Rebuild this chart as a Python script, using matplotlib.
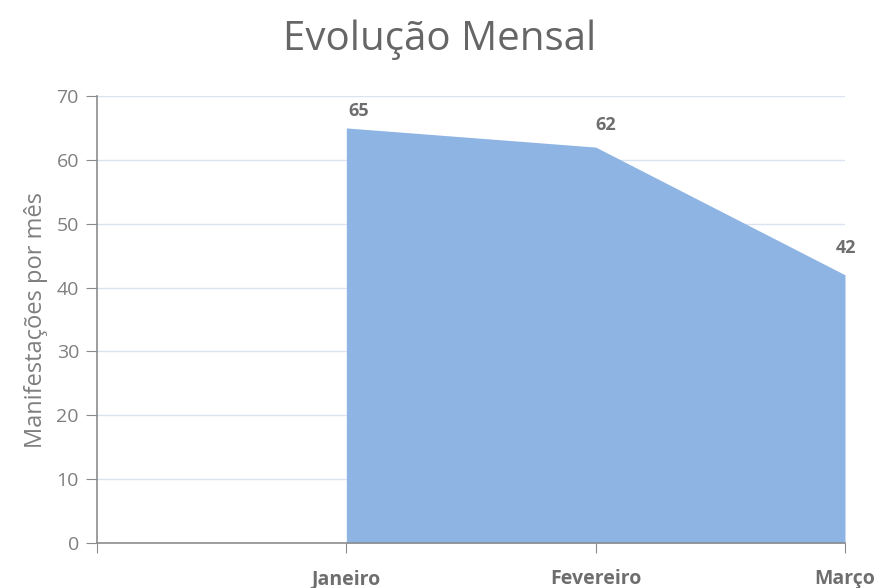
import numpy as np
import matplotlib
matplotlib.use("Agg")
import matplotlib.pyplot as plt

categories = ["", "Janeiro", "Fevereiro", "Março"]
values = [np.nan, 65, 62, 42]
yticks = [0, 10, 20, 30, 40, 50, 60, 70]

plt.rcParams['font.family'] = ['Open Sans', 'DejaVu Sans']

fig = plt.figure(figsize=(8.8, 5.88), dpi=100)
ax = fig.add_axes([97/880, 1-543/588, (845-97)/880, (543-96)/588])

x = np.arange(len(categories))
v = np.array(values, dtype=float)
mask = ~np.isnan(v)
ax.fill_between(x[mask], 0, v[mask], color="#8eb4e3", linewidth=0, zorder=2)

# label offsets in points (relative to data point)
offsets = {1: (9, 12), 2: (7, 16), 3: (1, 19)}
for i in x[mask]:
    ax.annotate(f"{int(v[i])}", (i, v[i]), xytext=offsets.get(i, (0, 14)), textcoords="offset points",
                ha="center", va="center", fontsize=13, fontweight="bold", color="#6e6e6e", zorder=3)

ax.set_xlim(0, len(categories) - 1)
ax.set_ylim(0, 70)
ax.set_yticks(yticks)
ax.set_xticks(x)
ax.set_xticklabels(categories, fontsize=14, fontweight="bold", color="#6e6e6e")
ax.set_yticklabels([str(t) for t in yticks], fontsize=14, color="#7f7f7f")
ax.tick_params(axis="x", length=7, color="#8c8c8c", pad=12)
ax.tick_params(axis="y", length=8, color="#8c8c8c", pad=5)

ax.grid(axis="y", color="#dce3f0", linewidth=1, zorder=0)
ax.set_axisbelow(True)
for s in ["top", "right"]:
    ax.spines[s].set_visible(False)
for s in ["left", "bottom"]:
    ax.spines[s].set_color("#8c8c8c")
    ax.spines[s].set_linewidth(1.2)

ax.set_ylabel("Manifestações por mês", fontsize=17, color="#7f7f7f", labelpad=6)
fig.text(0.5, 1-40/588, "Evolução Mensal", ha="center", va="center", fontsize=29, color="#666666")

fig.savefig("out.png", dpi=100)
